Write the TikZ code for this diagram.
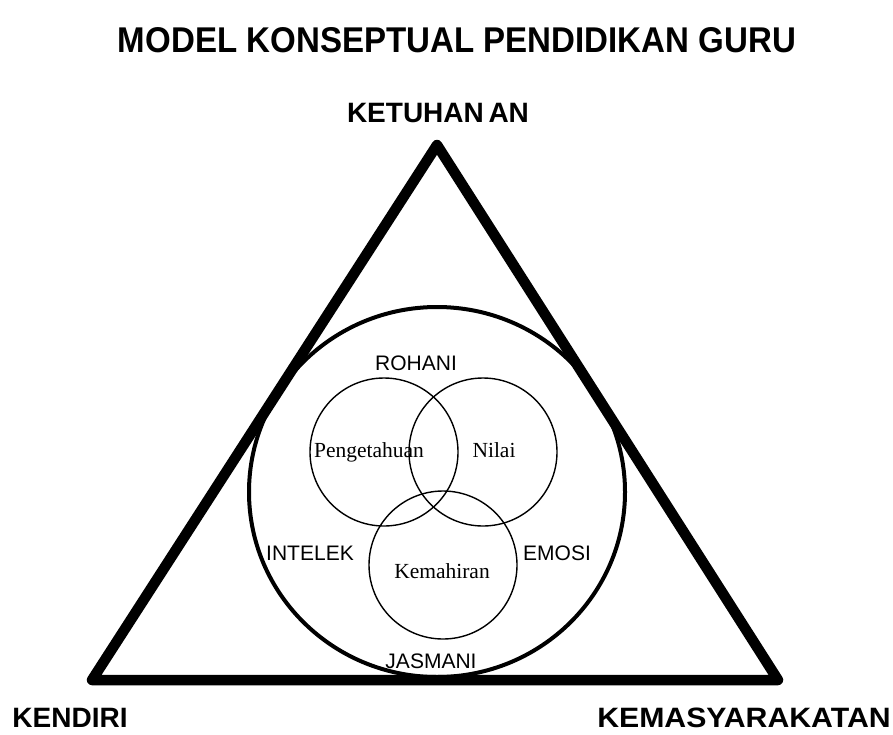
\documentclass[tikz,border=0pt]{standalone}
\usepackage{fontspec}
\setmainfont{Liberation Serif}
\setsansfont{Liberation Sans}
\usepackage{graphicx}
\usetikzlibrary{shapes.geometric}
\begin{document}
\begin{tikzpicture}[x=1pt,y=-1pt,
  lbl/.style={inner sep=0pt,anchor=base,font=\sffamily\fontsize{21}{21}\selectfont},
  serif/.style={inner sep=0pt,anchor=base,font=\rmfamily\fontsize{21.5}{21.5}\selectfont},
  big/.style={inner sep=0pt,anchor=base,font=\sffamily\bfseries\fontsize{28}{28}\selectfont},
  venn/.style={circle,draw,line width=1.4pt,minimum size=148pt,inner sep=0pt},
  outer/.style={ellipse,draw,line width=4pt,minimum width=376pt,minimum height=370pt,inner sep=0pt},
  tri/.style={line width=10.5pt,line join=round}]
\useasboundingbox (0,0) rectangle (893,734);
% title
\node[inner sep=0pt,anchor=base] (title) at (457,52) {\resizebox{678pt}{25pt}{\sffamily\bfseries MODEL KONSEPTUAL PENDIDIKAN GURU}};
% triangle
\coordinate (apex) at (437,145);
\coordinate (bl) at (92,680);
\coordinate (br) at (778,680);
\draw[tri] (apex) -- (bl) -- (br) -- cycle;
% big circle
\node[outer] (whole) at (437,492) {};
% venn circles
\node[venn] (cp) at (384,452) {};
\node[venn] (cn) at (483,452) {};
\node[venn] (ck) at (443,565) {};
% labels
\node[big] (ketuhanan) at (438,122) {KETUHAN\,AN};
\node[big] (kendiri) at (70,727) {KENDIRI};
\node[big] (kemas) at (744,727) {\scalebox{1.08}[1]{KEMASYARAKATAN}};
\node[lbl] (rohani) at (416,370) {ROHANI};
\node[lbl] (intelek) at (310,560) {INTELEK};
\node[lbl] (emosi) at (557,560) {EMOSI};
\node[lbl] (jasmani) at (431,668) {JASMANI};
\node[serif] (peng) at (369,457) {Pengetahuan};
\node[serif] (nilai) at (494,457) {Nilai};
\node[serif] (kem) at (442,578) {Kemahiran};
\end{tikzpicture}
\end{document}
